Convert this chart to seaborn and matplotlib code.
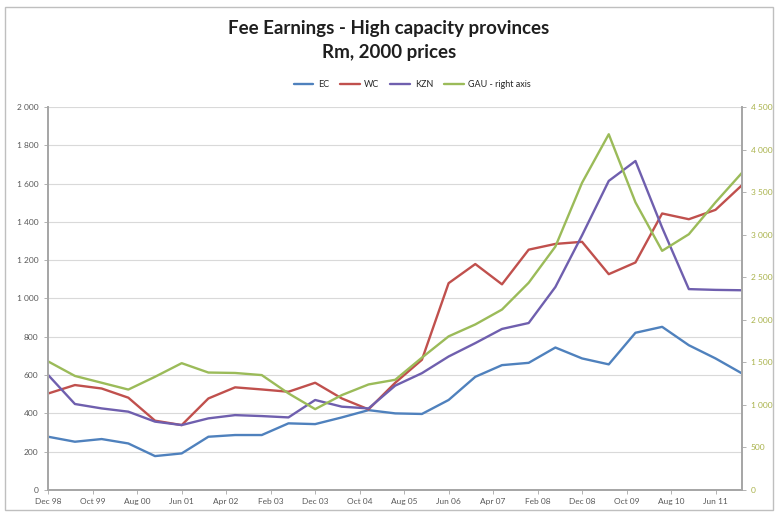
import numpy as np
import pandas as pd
import seaborn as sns
import matplotlib.pyplot as plt
from matplotlib.lines import Line2D
from matplotlib.patches import Rectangle
from matplotlib.ticker import FuncFormatter

# Semi-annual observations, Dec 98 .. Dec 11
periods = ['Dec 98', 'Jun 99', 'Dec 99', 'Jun 00', 'Dec 00', 'Jun 01', 'Dec 01',
           'Jun 02', 'Dec 02', 'Jun 03', 'Dec 03', 'Jun 04', 'Dec 04', 'Jun 05',
           'Dec 05', 'Jun 06', 'Dec 06', 'Jun 07', 'Dec 07', 'Jun 08', 'Dec 08',
           'Jun 09', 'Dec 09', 'Jun 10', 'Dec 10', 'Jun 11', 'Dec 11']

ec = [278, 252, 266, 243, 177, 191, 278, 287, 287, 348, 344, 379, 417, 400,
      397, 470, 591, 652, 664, 744, 687, 656, 821, 852, 756, 687, 608]
wc = [504, 548, 530, 482, 362, 339, 478, 536, 525, 513, 560, 478, 421, 560,
      680, 1080, 1180, 1074, 1255, 1285, 1296, 1127, 1188, 1444, 1414, 1463, 1593]
kzn = [600, 449, 426, 409, 357, 339, 374, 391, 386, 379, 470, 435, 426, 545,
       610, 697, 767, 841, 872, 1060, 1330, 1614, 1718, 1370, 1049, 1045, 1043]
gau = [1510, 1340, 1260, 1180, 1330, 1490, 1380, 1375, 1350, 1135, 950, 1115,
       1240, 1295, 1555, 1805, 1945, 2120, 2435, 2860, 3610, 4180, 3380, 2810,
       3005, 3380, 3730]

# x-axis labels (every 10 months from Dec 98)
tick_labels = ['Dec 98', 'Oct 99', 'Aug 00', 'Jun 01', 'Apr 02', 'Feb 03', 'Dec 03',
               'Oct 04', 'Aug 05', 'Jun 06', 'Apr 07', 'Feb 08', 'Dec 08', 'Oct 09',
               'Aug 10', 'Jun 11']

colors = {'EC': '#4F81BD', 'WC': '#C0504D', 'KZN': '#6F5FAE', 'GAU': '#9BBB59'}

months = np.arange(len(periods)) * 6
df = pd.DataFrame({'month': months, 'EC': ec, 'WC': wc, 'KZN': kzn})
long_df = df.melt(id_vars='month', var_name='province', value_name='value')
gau_df = pd.DataFrame({'month': months, 'GAU': gau})

sns.set_theme(style='white')
plt.rcParams['font.family'] = ['Lato', 'DejaVu Sans']

fig = plt.figure(figsize=(7.78, 5.12), dpi=100)
ax = fig.add_axes([0.062, 0.043, 0.892, 0.748])
ax2 = ax.twinx()

sns.lineplot(data=long_df, x='month', y='value', hue='province',
             palette=colors, linewidth=1.7, ax=ax, legend=False)
sns.lineplot(data=gau_df, x='month', y='GAU', color=colors['GAU'],
             linewidth=1.7, ax=ax2, legend=False)

ax.set_xlim(0, 156)
ax.set_ylim(0, 2000)
ax2.set_ylim(0, 4500)
ax.set_yticks(np.arange(0, 2001, 200))
ax2.set_yticks(np.arange(0, 4501, 500))

space_fmt = FuncFormatter(lambda v, p: f'{int(v):,}'.replace(',', ' '))
ax.yaxis.set_major_formatter(space_fmt)
ax2.yaxis.set_major_formatter(space_fmt)

ax.set_xticks(np.arange(len(tick_labels)) * 10)
ax.set_xticklabels(tick_labels)

ax.grid(axis='y', color='#D9D9D9', linewidth=0.8)
ax.set_axisbelow(True)
ax.set_xlabel('')
ax.set_ylabel('')
ax2.set_ylabel('')
ax2.set_xlabel('')

for a in (ax, ax2):
    a.spines['top'].set_visible(False)
    a.spines['left'].set_color('#A6A6A6')
    a.spines['right'].set_color('#A6A6A6')
    a.spines['bottom'].set_color('#A6A6A6')

ax.tick_params(axis='x', labelsize=6, colors='#595959', length=3, width=0.6,
               color='#A6A6A6', pad=3, bottom=True)
ax.tick_params(axis='y', labelsize=6, colors='#595959', length=3, width=0.6,
               color='#A6A6A6', left=True, pad=4)
ax2.tick_params(axis='y', labelsize=6, colors='#A9B24A', length=3, width=0.6,
                color='#A6A6A6', right=True, pad=3)

fig.text(0.5, 0.945, 'Fee Earnings - High capacity provinces', ha='center',
         va='center', fontsize=13.5, fontweight='bold', color='#1F1F1F')
fig.text(0.5, 0.898, 'Rm, 2000 prices', ha='center', va='center',
         fontsize=13.5, fontweight='bold', color='#1F1F1F')

handles = [Line2D([], [], color=colors[k], linewidth=1.7) for k in ['EC', 'WC', 'KZN', 'GAU']]
fig.legend(handles, ['EC', 'WC', 'KZN', 'GAU - right axis'], loc='center',
           bbox_to_anchor=(0.53, 0.834), ncol=4, frameon=False, fontsize=6.5,
           handlelength=2.2, columnspacing=1.2, handletextpad=0.5)

fig.patches.append(Rectangle((0.006, 0.004), 0.988, 0.982, transform=fig.transFigure,
                             fill=False, edgecolor='#BFBFBF', linewidth=1))

plt.savefig('out.png', dpi=100)
